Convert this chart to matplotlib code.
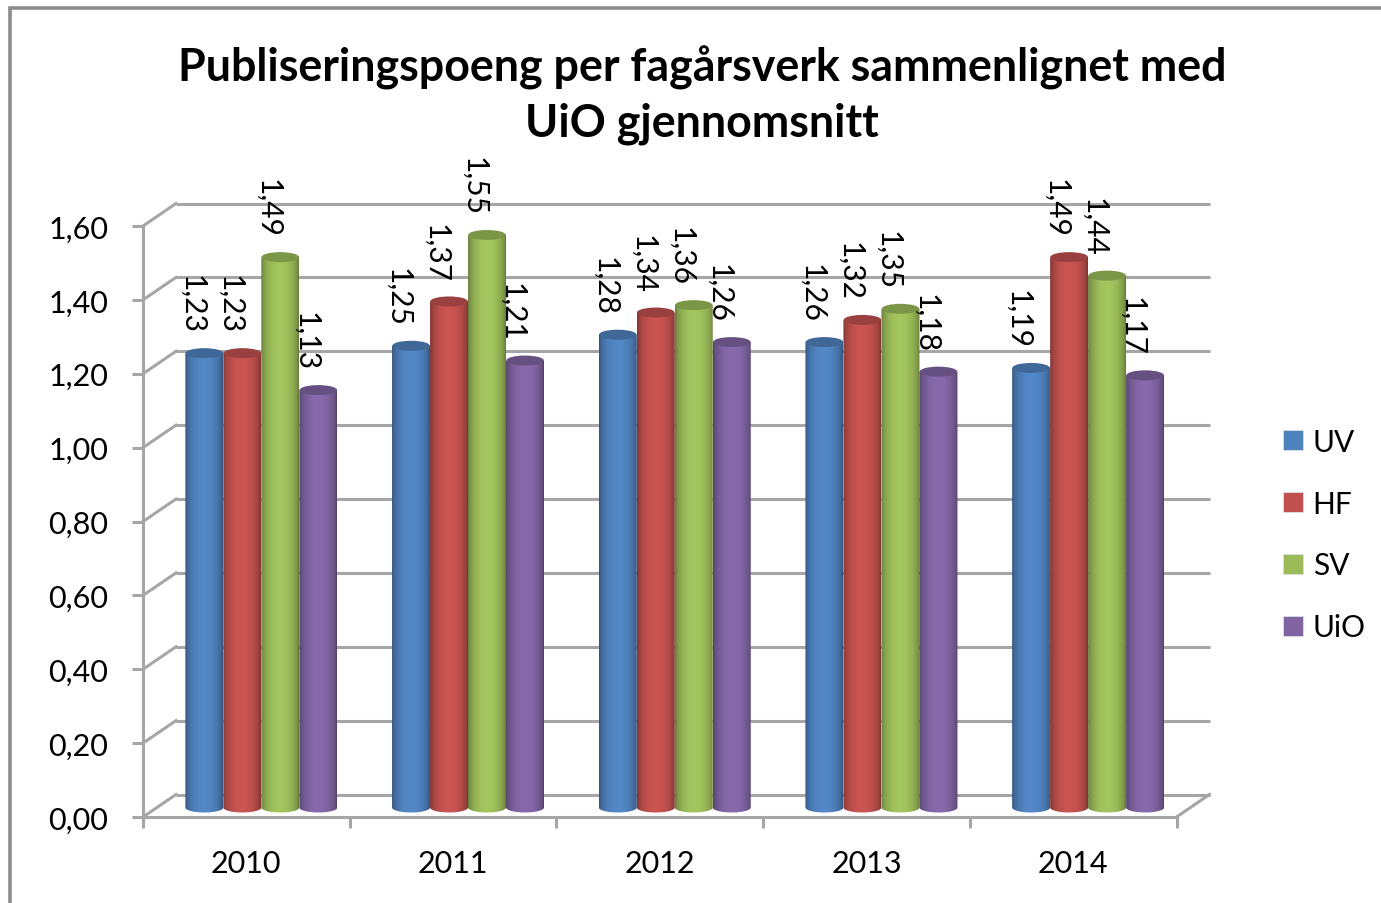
import numpy as np
import matplotlib
matplotlib.use("Agg")
import matplotlib.pyplot as plt
from matplotlib.patches import Ellipse, PathPatch, Patch
from matplotlib.path import Path
from matplotlib.lines import Line2D
from matplotlib.transforms import Affine2D
from matplotlib.colors import to_rgb

years = ["2010", "2011", "2012", "2013", "2014"]
series_names = ["UV", "HF", "SV", "UiO"]
uv = [1.23, 1.25, 1.28, 1.26, 1.19]
hf = [1.23, 1.37, 1.34, 1.32, 1.49]
sv = [1.49, 1.55, 1.36, 1.35, 1.44]
uio = [1.13, 1.21, 1.26, 1.18, 1.17]
series_values = [uv, hf, sv, uio]
colors = ["#4F81BD", "#C0504D", "#9BBB59", "#8064A2"]
yticks = [0.0, 0.2, 0.4, 0.6, 0.8, 1.0, 1.2, 1.4, 1.6]
title = "Publiseringspoeng per fagårsverk sammenlignet med\nUiO gjennomsnitt"

W, H = 1381, 904
FONT = "Lato"
GRID = "#a6a6a6"
plt.rcParams["font.family"] = [FONT, "DejaVu Sans"]

fig = plt.figure(figsize=(W / 100, H / 100), dpi=100, facecolor="white")
L, R, T, B = 143, 1176.5, 227, 818
ax = fig.add_axes([L / W, 1 - B / H, (R - L) / W, (B - T) / H])
ax.patch.set_visible(False)

ppx = (R - L) / 5
ppy = (B - T) / 1.6

# depth offsets in pixels
back = ax.transData + Affine2D().translate(33, 22.5)
bar_tr = ax.transData + Affine2D().translate(15, 9.5)

# back wall lines and the receding diagonals
for v in yticks:
    ax.plot([-0.5, 4.5], [v, v], color=GRID, lw=2.2, transform=back, zorder=1,
            clip_on=False, solid_capstyle="butt")
    ax.plot([-0.5, -0.5 + 33 / ppx], [v, v + 22.5 / ppy], color=GRID, lw=2.2,
            zorder=1, clip_on=False)
ax.plot([4.5, 4.5 + 33 / ppx], [0, 22.5 / ppy], color=GRID, lw=2.2, zorder=1, clip_on=False)

bar_w = 38.0 / ppx
ell_h = 5.0 / ppy
offsets = np.array([-1.5, -0.5, 0.5, 1.5]) * bar_w
z = 3


def shaded(color):
    t = np.linspace(0, 1, 64)
    f = 0.64 + 0.42 * np.sin(np.pi * t) ** 0.55
    return np.clip(np.array(to_rgb(color))[None, None, :] * f[None, :, None], 0, 1)


grid_idx = np.arange(len(years))
for s, (name, vals, col, off) in enumerate(zip(series_names, series_values, colors, offsets)):
    xs = grid_idx + off
    bars = ax.bar(xs, vals, width=bar_w, color=col, transform=bar_tr, zorder=z + s * 3,
                  alpha=0, clip_on=False)
    for xc, v, rect in zip(xs, vals, bars):
        th = np.linspace(0, np.pi, 40)
        lx = xc - bar_w / 2
        rx = xc + bar_w / 2
        verts = [(lx, v)]
        verts += list(zip(xc - bar_w / 2 * np.cos(th), 0 - ell_h * np.sin(th)))
        verts += [(rx, v), (lx, v)]
        codes = [Path.MOVETO] + [Path.LINETO] * (len(verts) - 2) + [Path.CLOSEPOLY]
        cyl = PathPatch(Path(verts, codes), transform=bar_tr, fc="none", ec="none")
        ax.add_patch(cyl)
        im = ax.imshow(shaded(col), extent=[lx, rx, -ell_h, v], aspect="auto",
                       transform=bar_tr, zorder=z + s * 3 + 1, interpolation="bilinear")
        im.set_clip_path(cyl)
        top = Ellipse((xc, v), bar_w * 0.99, 2 * ell_h,
                      fc=tuple(np.array(to_rgb(col)) * 0.8), ec="none",
                      transform=bar_tr, zorder=z + s * 3 + 2, clip_on=False)
        ax.add_patch(top)
        lab = ax.text(xc, v, f"{v:.2f}".replace(".", ","), rotation=-90, ha="center",
                      va="bottom", fontsize=21.5, color="black", zorder=40, clip_on=False,
                      transform=ax.transData + Affine2D().translate(15 - 13, 9.5 + 20))

ax.set_xlim(-0.5, 4.5)
ax.set_ylim(0, 1.6)

for sp in ("top", "right"):
    ax.spines[sp].set_visible(False)
for sp in ("left", "bottom"):
    ax.spines[sp].set_color(GRID)
    ax.spines[sp].set_linewidth(2.2)
    ax.spines[sp].set_zorder(2)

ax.set_yticks(yticks)
ax.set_yticklabels([f"{v:.2f}".replace(".", ",") for v in yticks], fontsize=22)
ax.tick_params(axis="y", length=8, width=2.2, color=GRID, pad=17)
ax.set_xticks(grid_idx)
ax.set_xticklabels(years, fontsize=22)
ax.set_xticks(np.arange(-0.5, 5, 1), minor=True)
ax.tick_params(axis="x", which="major", length=0, pad=23)
ax.tick_params(axis="x", which="minor", length=8, width=2.2, color=GRID)

handles = [Patch(facecolor=c, edgecolor="#d8e0ea", linewidth=0.6, label=n)
           for c, n in zip(colors, series_names)]
fig.legend(handles=handles, loc="center left", bbox_to_anchor=(1283 / W, 1 - 535.5 / H),
           frameon=False, fontsize=21.5, handlelength=0.66, handleheight=0.66,
           handletextpad=0.33, labelspacing=1.13, borderpad=0, borderaxespad=0)

fig.text(702 / W, 1 - 95 / H, title, ha="center", va="center", fontsize=32.2,
         fontweight="bold", color="black", linespacing=1.37)

fig.add_artist(Line2D([10 / W, 10 / W, 1], [0, 1 - 9 / H, 1 - 9 / H], color="#8c8c8c",
                      lw=2.6, transform=fig.transFigure, solid_joinstyle="miter"))

fig.savefig("out.png", dpi=100, facecolor="white")
